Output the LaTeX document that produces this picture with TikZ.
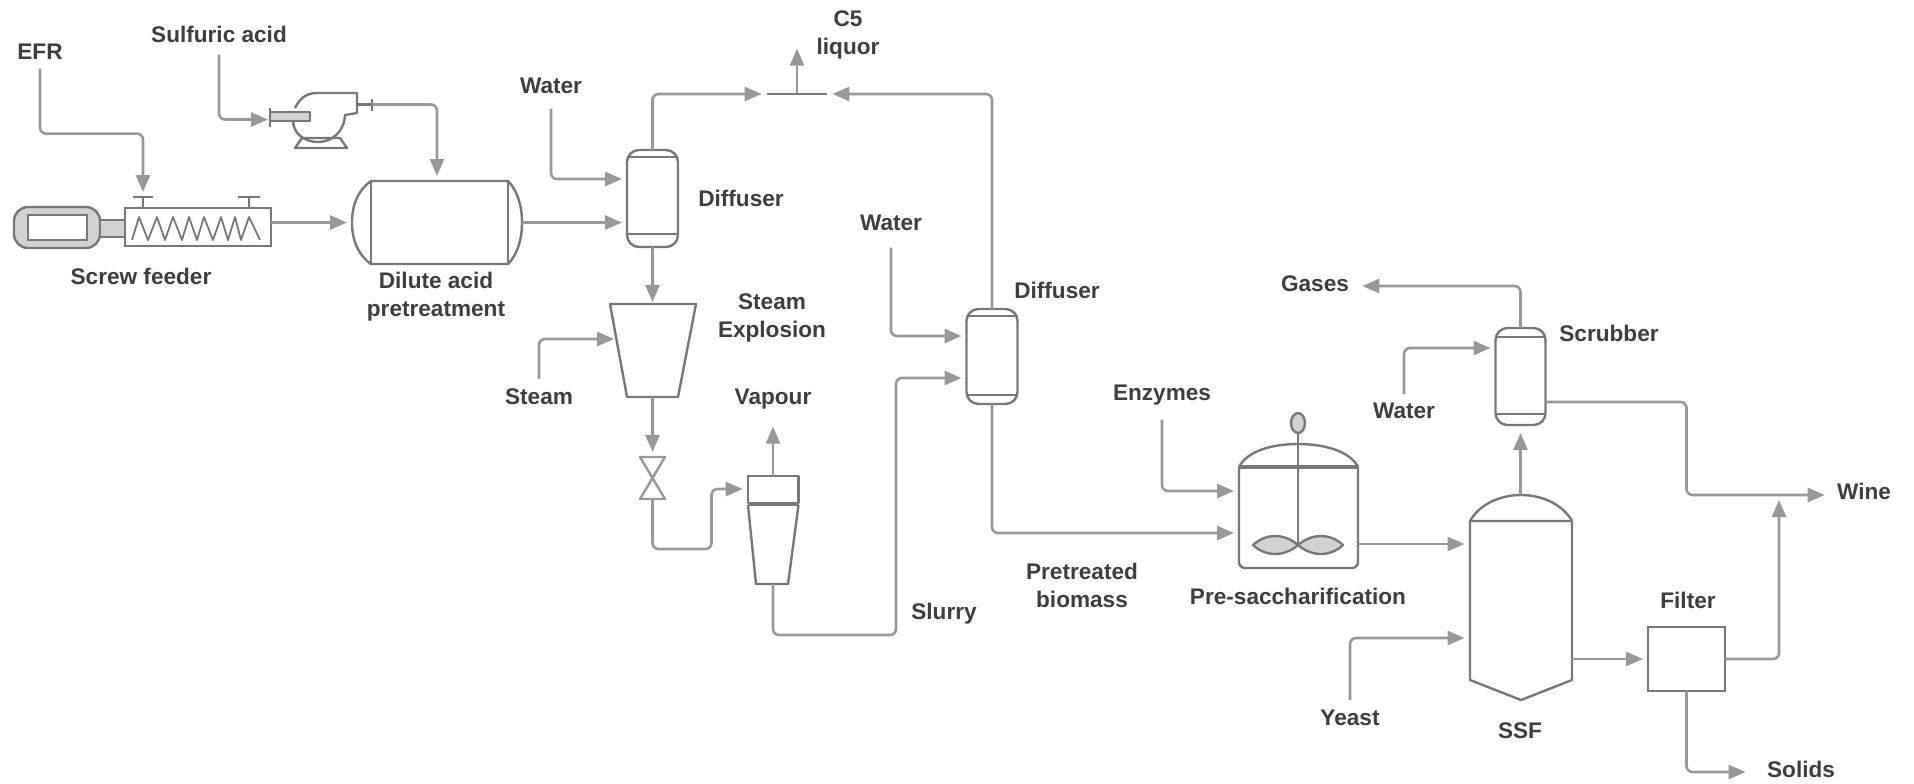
\documentclass[tikz,border=0pt]{standalone}
\usepackage{fontspec}
\setmainfont{Liberation Sans}
\usetikzlibrary{arrows.meta, shapes.geometric}

\definecolor{pipegray}{HTML}{989898}
\definecolor{unitgray}{HTML}{787878}
\definecolor{textgray}{HTML}{3E3E3E}

\begin{document}
\begin{tikzpicture}[
        x=0.5pt, y=-0.5pt,
        % Styles
        lbl/.style={font=\fontsize{11.3}{14}\selectfont\bfseries, text=textgray, inner sep=2pt, align=center, yshift=-0.6pt},
        tag/.style={lbl, text height=8.5pt, text depth=2.5pt},
        unit/.style={draw=unitgray, line width=1.2pt, inner sep=0pt, outer sep=0pt},
        port_box/.style={inner sep=0pt, outer sep=0pt},
        shell/.style={draw=unitgray, line width=1.2pt, line join=round},
        filled_part/.style={shell, fill=gray!35},
        arrow/.style={-{Triangle[length=8.5pt, width=7pt]}, draw=pipegray, fill=none, line width=1.3pt, rounded corners=3pt, shorten >=2.5pt}
    ]
    \useasboundingbox (0,0) rectangle (1914,783);

    % Feed Labels
    \node[tag] (efr) at (40,52) {EFR};
    \node[tag] (sulfuric) at (219,35) {Sulfuric acid};
    \node[tag] (water_a) at (551,86) {Water};
    \node[tag] (water_b) at (891,223) {Water};
    \node[tag] (water_c) at (1404,411) {Water};
    \node[tag] (steam) at (539,397) {Steam};
    \node[tag] (enzymes) at (1162,393) {Enzymes};
    \node[tag] (yeast) at (1350,718) {Yeast};

    % Product Labels
    \node[lbl] at (848,34) {C5\\liquor};
    \node[tag] (vapour) at (773,397) {Vapour};
    \node[tag] (gases) at (1315,284) {Gases};
    \node[tag] (wine) at (1864,492) {Wine};
    \node[tag] (solids) at (1801,770) {Solids};

    % Unit Labels
    \node[tag] at (141,277) {Screw feeder};
    \node[lbl] at (436,295) {Dilute acid\\pretreatment};
    \node[tag] at (741,199) {Diffuser};
    \node[lbl] at (772,317) {Steam\\Explosion};
    \node[tag] at (1057,291) {Diffuser};
    \node[tag] at (944,612) {Slurry};
    \node[lbl] at (1082,584) {Pretreated\\biomass};
    \node[tag] at (1298,597) {Pre-saccharification};
    \node[tag] at (1609,334) {Scrubber};
    \node[tag] at (1520,731) {SSF};
    \node[tag] at (1688,601) {Filter};

    % Screw Feeder
    \node[unit, fill=gray!35, rounded corners=7pt, minimum width=43pt, minimum height=20.5pt] (motor) at (57,227.5) {};
    \node[unit, fill=white, minimum width=29.5pt, minimum height=12.5pt] (motor_core) at (57.5,227.5) {};
    \node[unit, fill=gray!35, minimum width=12.5pt, minimum height=8.5pt] (coupling) at (112.5,228.5) {};
    \node[unit, minimum width=73pt, minimum height=19pt] (screw) at (198,227) {};
    \draw[shell, line width=0.9pt] (132,240) -- (139,217) -- (148,240) -- (157,217) -- (165,240) -- (173,217) -- (182,240) -- (189,217) -- (197,240) -- (204,217) -- (213,240) -- (221,217) -- (228,240) -- (235,217) -- (241,240) -- (249,217) -- (260,240);
    \coordinate (flange_a) at (143,197);
    \coordinate (flange_b) at (249,197);
    \draw[shell] (133,197) -- (153,197) (flange_a) -- (143,208);
    \draw[shell] (238,197) -- (260,197) (flange_b) -- (249,208);

    % Pump
    \coordinate (pump_in) at (273,119.5);
    \coordinate (pump_out) at (372,104.5);
    \draw[shell] (295,108) .. controls (299,100) and (305,93) .. (317,93) -- (357,93) -- (357,113) -- (345,115) .. controls (344,132) and (332,142) .. (318,142) .. controls (305,142) and (294,134) .. (293,122);
    \draw[shell] (295,148) -- (347,148) -- (340,138) -- (302,138) -- cycle;
    \draw[filled_part] (270,112) rectangle (310,121);
    \draw[shell] (270,108) -- (270,127);
    \draw[shell] (357,104.5) -- (pump_out) (372,99) -- (372,111);

    % Dilute Acid Vessel
    \node[port_box, minimum width=85pt, minimum height=41.5pt] (dilute) at (437,222.5) {};
    \draw[shell] (371,181) -- (508,181) .. controls (517,190) and (522,205) .. (522,222.5) .. controls (522,240) and (517,255) .. (508,264) -- (371,264) .. controls (358,255) and (352,240) .. (352,222.5) .. controls (352,205) and (358,190) .. (371,181) -- cycle;
    \draw[shell] (371,181) -- (371,264) (508,181) -- (508,264);

    % First Diffuser
    \node[unit, rounded corners=6pt, minimum width=25.5pt, minimum height=48.5pt] (diff_a) at (652.5,198.5) {};
    \draw[shell] (627,157) -- (678,157) (627,234) -- (678,234);

    % Steam Explosion Vessel
    \node[port_box, minimum width=43pt, minimum height=46.5pt] (blast) at (652.5,350.5) {};
    \draw[shell] (610,304) -- (696,304) -- (678,397) -- (627,397) -- cycle;
    \coordinate (blast_in) at (619,339);

    % Valve
    \node[port_box, minimum width=13pt, minimum height=21pt] (valve) at (652.5,478) {};
    \draw[shell, draw=pipegray] (640,457) -- (665,457) -- (640,499) -- (665,499) -- cycle;

    % Flash Tank
    \node[port_box, minimum width=25.3pt, minimum height=54pt] (flash) at (773,530) {};
    \draw[shell] (748,476) rectangle (798.5,503);
    \draw[shell, line width=1.8pt] (748,504) -- (798.5,504);
    \draw[shell] (748,505) -- (756,584) -- (788,584) -- (798.5,505);

    % Second Diffuser
    \node[unit, rounded corners=6pt, minimum width=25.5pt, minimum height=47.5pt] (diff_b) at (992,356.5) {};
    \draw[shell] (966.5,316) -- (1017.5,316) (966.5,395) -- (1017.5,395);
    \node[fill=unitgray, inner sep=0pt, minimum width=30pt, minimum height=1pt] (tee) at (797,94) {};

    % Pre-saccharification Tank
    \node[port_box, minimum width=59.5pt, minimum height=62.5pt] (pre) at (1298.5,505.5) {};
    \draw[shell, rounded corners=3pt] (1239,467) -- (1239,568) -- (1358,568) -- (1358,467);
    \draw[shell] (1239,467) .. controls (1247,451) and (1272,444) .. (1298,444) .. controls (1324,444) and (1350,451) .. (1358,467);
    \draw[shell, line width=1.8pt] (1239,467) -- (1358,467);
    \node[unit, fill=gray!35, ellipse, minimum width=7pt, minimum height=10pt] (stirrer) at (1298,423) {};
    \draw[shell] (stirrer.south) -- (1298,545);
    \draw[filled_part] (1298,545) .. controls (1284,533) and (1266,533) .. (1253,545) .. controls (1266,557) and (1284,557) .. (1298,545) .. controls (1312,533) and (1330,533) .. (1343,545) .. controls (1330,557) and (1312,557) .. (1298,545);

    % SSF Vessel
    \node[port_box, minimum width=51pt, minimum height=102.5pt] (ssf) at (1520.5,597.5) {};
    \draw[shell] (1470,521) -- (1470,680) -- (1521,700) -- (1572,680) -- (1572,521) -- cycle;
    \draw[shell] (1470,521) .. controls (1479,505) and (1499,495) .. (1521,495) .. controls (1543,495) and (1563,505) .. (1572,521);

    % Scrubber
    \node[unit, rounded corners=6pt, minimum width=25pt, minimum height=48.5pt] (scrub) at (1520.5,376.5) {};
    \draw[shell] (1495.5,337) -- (1545.5,337) (1495.5,414) -- (1545.5,414);

    % Filter
    \node[unit, minimum width=38.5pt, minimum height=32pt] (filter) at (1686.5,659) {};
    \coordinate (wine_join) at (1779,495);

    % Connectors
    \draw[arrow] (efr.south) -- ++(0,65) -| (flange_a);
    \draw[arrow, shorten <=1.5pt] (sulfuric.south) |- (pump_in);
    \draw[arrow] (pump_out) -| (dilute.north);
    \draw[arrow] (screw.east |- dilute.west) -- (dilute.west);
    \draw[arrow] (dilute.east) -- (dilute.east -| diff_a.west);
    \draw[arrow, shorten <=3pt] (water_a.south) |- ([yshift=9.75pt]diff_a.west);
    \draw[arrow] (diff_a.north) |- (tee.west);
    \draw[arrow] (diff_b.north) |- (tee.east);
    \draw[arrow, shorten >=0pt] (tee.north) -- ++(0,-44);
    \draw[arrow, shorten >=1pt] (diff_a.south) -- (blast.north);
    \draw[arrow, shorten <=2pt] (steam.north) |- (blast_in);
    \draw[arrow] (blast.south) -- (valve.north);
    \draw[arrow] (valve.south) -- ++(0,50) -- ++(59,0) |- ([yshift=20.5pt]flash.west);
    \draw[arrow, shorten >=6.5pt] (flash.north) -- (vapour.south);
    \draw[arrow] (flash.south) -- ++(0,51) -- ++(123,0) |- ([yshift=-10.75pt]diff_b.west);
    \draw[arrow, shorten <=4pt] (water_b.south) |- ([yshift=10.25pt]diff_b.west);
    \draw[arrow] (diff_b.south) |- ([yshift=-13.75pt]pre.west);
    \draw[arrow, shorten <=5pt] (enzymes.south) |- ([yshift=7.25pt]pre.west);
    \draw[arrow] ([yshift=-19.25pt]pre.east) -- ([yshift=26.75pt]ssf.west);
    \draw[arrow, shorten <=2pt] (yeast.north) |- ([yshift=-20.25pt]ssf.west);
    \draw[arrow, shorten >=4pt] (ssf.north) -- (scrub.south);
    \draw[arrow, shorten >=4.5pt] (scrub.north) |- ([yshift=-0.4pt]gases.east);
    \draw[arrow, shorten <=1.5pt] (water_c.north) |- ([yshift=14.25pt]scrub.west);
    \draw[arrow, shorten >=4pt] ([yshift=-12.75pt]scrub.east) -- ++(141,0) |- ([yshift=-0.9pt]wine.west);
    \draw[arrow] ([yshift=-30.75pt]ssf.east) -- (filter.west);
    \draw[arrow] (filter.east) -| (wine_join);
    \draw[arrow, shorten >=8.5pt] (filter.south) |- ([yshift=-0.4pt]solids.west);

\end{tikzpicture}
\end{document}
